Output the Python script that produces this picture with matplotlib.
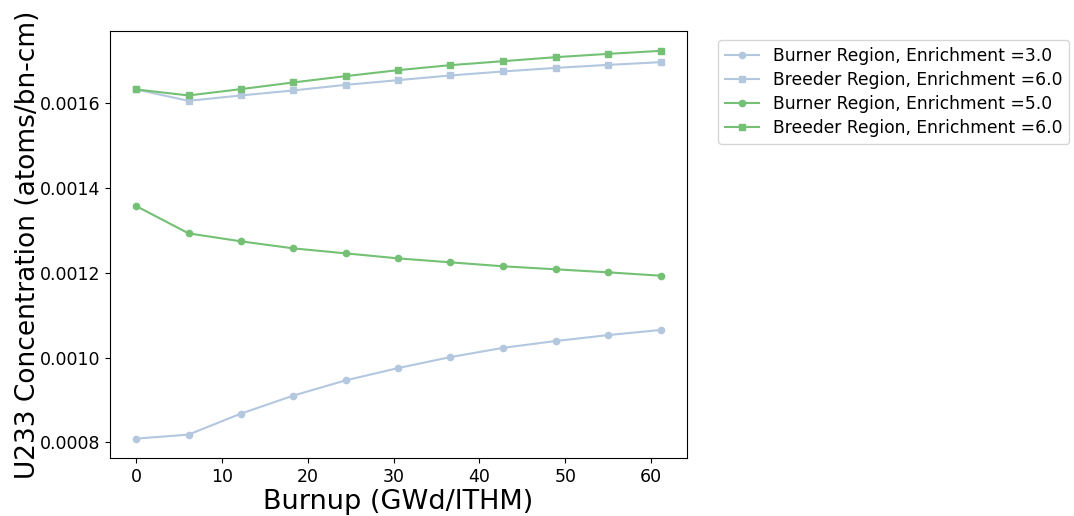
import matplotlib
matplotlib.use("Agg")
import matplotlib.pyplot as plt

# Burnup steps (GWd/ITHM)
burnup = [0.0, 6.1, 12.2, 18.3, 24.4, 30.5, 36.6, 42.8, 48.9, 55.0, 61.1]

# U233 concentration (atoms/bn-cm)
burner_e3 = [0.0008085, 0.000818, 0.0008675, 0.000910, 0.000946, 0.000975,
             0.001001, 0.001023, 0.001039, 0.001053, 0.001065]
breeder_e6_a = [0.0016331, 0.0016062, 0.0016189, 0.0016307, 0.0016439, 0.0016550,
                0.0016661, 0.0016756, 0.0016840, 0.0016911, 0.0016975]
burner_e5 = [0.0013577, 0.0012932, 0.0012744, 0.0012578, 0.0012460, 0.0012342,
             0.0012248, 0.0012154, 0.0012083, 0.0012012, 0.0011932]
breeder_e6_b = [0.0016331, 0.0016189, 0.0016338, 0.0016496, 0.0016645, 0.0016786,
                0.0016904, 0.0016999, 0.0017093, 0.0017171, 0.0017242]

labels = ["Burner Region, Enrichment =3.0",
          "Breeder Region, Enrichment =6.0",
          "Burner Region, Enrichment =5.0",
          "Breeder Region, Enrichment =6.0"]

blue = "#b3c7df"
green = "#74c074"

fig = plt.figure(figsize=(10.74, 5.16), dpi=100)
ax = fig.add_axes([0.1024, 0.1124, 0.5370, 0.8266])

ax.plot(burnup, burner_e3, color=blue, marker="o", markersize=4.5, lw=1.5, label=labels[0])
ax.plot(burnup, breeder_e6_a, color=blue, marker="s", markersize=4.5, lw=1.5, label=labels[1])
ax.plot(burnup, burner_e5, color=green, marker="o", markersize=4.5, lw=1.5, label=labels[2])
ax.plot(burnup, breeder_e6_b, color=green, marker="s", markersize=4.5, lw=1.5, label=labels[3])

ax.set_yticks([0.0008, 0.0010, 0.0012, 0.0014, 0.0016])
ax.set_yticklabels(["0.0008", "0.0010", "0.0012", "0.0014", "0.0016"])
ax.tick_params(labelsize=12.5)
ax.set_xlabel("Burnup (GWd/ITHM)", fontsize=19.5, labelpad=2)
ax.set_ylabel("U233 Concentration (atoms/bn-cm)", fontsize=19, labelpad=-1)

ax.legend(loc="upper left", bbox_to_anchor=(1.04, 1.0), fontsize=12.3,
          labelspacing=0.35)

fig.savefig("out.png", dpi=100)
